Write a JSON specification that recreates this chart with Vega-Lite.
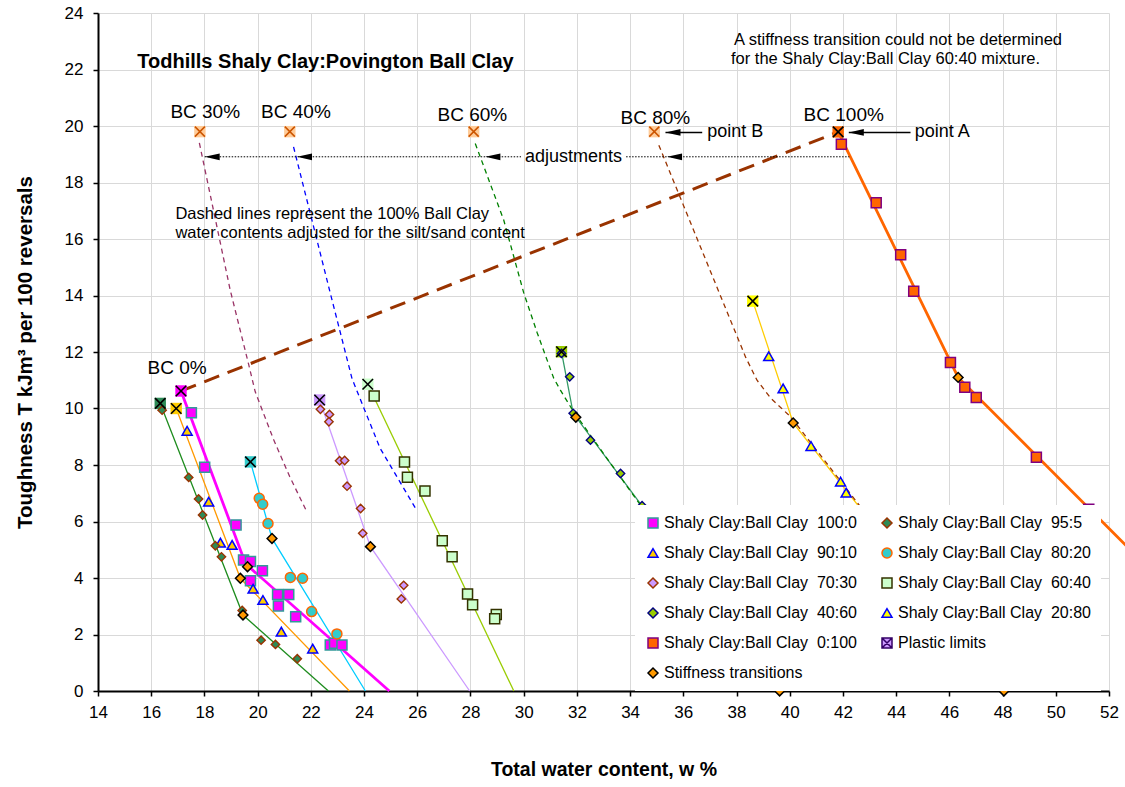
{
  "$schema": "https://vega.github.io/schema/vega-lite/v6.json",
  "width": 1011,
  "height": 678,
  "autosize": {"type": "none"},
  "padding": {"left": 98, "top": 13, "right": 16, "bottom": 96},
  "background": "white",
  "config": {
    "font": "Liberation Sans",
    "view": {"stroke": null},
    "axis": {
      "grid": true, "gridColor": "#D9D9D9", "gridWidth": 1,
      "domainColor": "black", "domainWidth": 2,
      "tickColor": "black", "tickSize": 5, "tickWidth": 1.5,
      "labelColor": "black", "labelFontSize": 17, "labelFont": "Liberation Sans",
      "titleColor": "black", "titleFontSize": 19.5, "titleFontWeight": "bold", "titleFont": "Liberation Sans",
      "labelFlush": false
    },
    "legend": {
      "orient": "none", "legendX": 537, "legendY": 492,
      "columns": 2, "columnPadding": 22, "rowPadding": 14, "padding": 10,
      "fillColor": "white", "labelFontSize": 16, "labelFont": "Liberation Sans", "labelColor": "black",
      "symbolSize": 100, "symbolStrokeWidth": 1.5, "labelOffset": 3, "labelLimit": 400
    }
  },
  "datasets": {
    "pts": [
      {"s":"100:0","x":17.51,"y":9.85},{"s":"100:0","x":18.01,"y":7.92},{"s":"100:0","x":19.19,"y":5.88},{"s":"100:0","x":19.47,"y":4.64},{"s":"100:0","x":19.73,"y":4.58},{"s":"100:0","x":20.18,"y":4.26},{"s":"100:0","x":19.73,"y":3.90},{"s":"100:0","x":20.75,"y":3.42},{"s":"100:0","x":21.17,"y":3.42},{"s":"100:0","x":20.78,"y":3.01},{"s":"100:0","x":21.43,"y":2.63},{"s":"100:0","x":22.73,"y":1.63},{"s":"100:0","x":22.89,"y":1.69},{"s":"100:0","x":23.17,"y":1.63},
      {"s":"90:10","x":17.35,"y":9.21},{"s":"90:10","x":18.16,"y":6.70},{"s":"90:10","x":18.60,"y":5.25},{"s":"90:10","x":19.04,"y":5.17},{"s":"90:10","x":19.83,"y":3.62},{"s":"90:10","x":20.20,"y":3.22},{"s":"90:10","x":20.89,"y":2.10},{"s":"90:10","x":22.07,"y":1.50},
      {"s":"80:20","x":20.06,"y":6.82},{"s":"80:20","x":20.19,"y":6.61},{"s":"80:20","x":20.39,"y":5.93},{"s":"80:20","x":21.23,"y":4.02},{"s":"80:20","x":21.69,"y":3.99},{"s":"80:20","x":22.03,"y":2.81},{"s":"80:20","x":22.98,"y":2.02},
      {"s":"60:40","x":24.38,"y":10.44},{"s":"60:40","x":25.52,"y":8.11},{"s":"60:40","x":25.63,"y":7.57},{"s":"60:40","x":26.29,"y":7.08},{"s":"60:40","x":26.94,"y":5.32},{"s":"60:40","x":27.31,"y":4.75},{"s":"60:40","x":27.89,"y":3.43},{"s":"60:40","x":28.08,"y":3.05},{"s":"60:40","x":28.97,"y":2.71},{"s":"60:40","x":28.91,"y":2.56},
      {"s":"20:80","x":39.21,"y":11.85},{"s":"20:80","x":39.75,"y":10.71},{"s":"20:80","x":40.80,"y":8.67},{"s":"20:80","x":41.91,"y":7.41},{"s":"20:80","x":42.12,"y":7.02},
      {"s":"0:100","x":41.94,"y":19.35},{"s":"0:100","x":43.25,"y":17.28},{"s":"0:100","x":44.17,"y":15.44},{"s":"0:100","x":44.66,"y":14.15},{"s":"0:100","x":46.04,"y":11.63},{"s":"0:100","x":46.58,"y":10.75},{"s":"0:100","x":47.01,"y":10.39},{"s":"0:100","x":49.27,"y":8.27},{"s":"0:100","x":51.24,"y":6.43}
    ],
    "small": [
      {"s":"95:5","x":16.41,"y":9.94},{"s":"95:5","x":17.41,"y":7.56},{"s":"95:5","x":17.78,"y":6.80},{"s":"95:5","x":17.93,"y":6.23},{"s":"95:5","x":18.41,"y":5.14},{"s":"95:5","x":18.64,"y":4.75},{"s":"95:5","x":19.42,"y":2.85},{"s":"95:5","x":20.13,"y":1.80},{"s":"95:5","x":20.67,"y":1.65},{"s":"95:5","x":21.49,"y":1.14},
      {"s":"70:30","x":22.36,"y":9.97},{"s":"70:30","x":22.70,"y":9.79},{"s":"70:30","x":22.68,"y":9.53},{"s":"70:30","x":23.08,"y":8.15},{"s":"70:30","x":23.27,"y":8.16},{"s":"70:30","x":23.36,"y":7.25},{"s":"70:30","x":23.87,"y":6.46},{"s":"70:30","x":23.95,"y":5.58},{"s":"70:30","x":25.49,"y":3.74},{"s":"70:30","x":25.40,"y":3.26},
      {"s":"40:60","x":31.42,"y":11.95},{"s":"40:60","x":31.73,"y":11.12},{"s":"40:60","x":31.86,"y":9.83},{"s":"40:60","x":32.51,"y":8.88},{"s":"40:60","x":33.64,"y":7.70},{"s":"40:60","x":34.45,"y":6.56}
    ],
    "stiff": [
      {"s":"Stiffness transitions","x":19.62,"y":4.40},{"s":"Stiffness transitions","x":19.35,"y":3.99},{"s":"Stiffness transitions","x":19.45,"y":2.69},{"s":"Stiffness transitions","x":20.54,"y":5.40},{"s":"Stiffness transitions","x":24.24,"y":5.11},{"s":"Stiffness transitions","x":31.96,"y":9.69},{"s":"Stiffness transitions","x":40.13,"y":9.49},{"s":"Stiffness transitions","x":46.33,"y":11.10},{"s":"Stiffness transitions","x":39.62,"y":0},{"s":"Stiffness transitions","x":48.05,"y":0}
    ],
    "pl": [
      {"s":"100:0","x":17.12,"y":10.62},{"s":"95:5","x":16.34,"y":10.18},{"s":"90:10","x":16.94,"y":10.00},{"s":"80:20","x":19.73,"y":8.11},{"s":"70:30","x":22.33,"y":10.30},{"s":"60:40","x":24.14,"y":10.86},{"s":"40:60","x":31.42,"y":12.01},{"s":"20:80","x":38.61,"y":13.80},{"s":"0:100","x":41.82,"y":19.79}
    ],
    "bc": [
      {"b":"BC 30%","x":17.83,"y":19.8},{"b":"BC 40%","x":21.21,"y":19.8},{"b":"BC 60%","x":28.12,"y":19.8},{"b":"BC 80%","x":34.91,"y":19.8}
    ],
    "lines": [
      {"g":"L100:0","o":1,"x":17.12,"y":10.62},{"g":"L100:0","o":2,"x":19.55,"y":4.5},{"g":"L100:0","o":3,"x":24.95,"y":0},
      {"g":"L95:5","o":1,"x":16.34,"y":10.18},{"g":"L95:5","o":2,"x":19.45,"y":2.69},{"g":"L95:5","o":3,"x":22.66,"y":0},
      {"g":"L90:10","o":1,"x":16.94,"y":10.0},{"g":"L90:10","o":2,"x":19.35,"y":3.99},{"g":"L90:10","o":3,"x":23.45,"y":0},
      {"g":"L80:20","o":1,"x":19.73,"y":8.11},{"g":"L80:20","o":2,"x":20.54,"y":5.40},{"g":"L80:20","o":3,"x":24.05,"y":0},
      {"g":"L70:30","o":1,"x":22.33,"y":10.30},{"g":"L70:30","o":2,"x":24.24,"y":5.11},{"g":"L70:30","o":3,"x":27.97,"y":0},
      {"g":"L60:40","o":1,"x":24.14,"y":10.86},{"g":"L60:40","o":2,"x":29.63,"y":0},
      {"g":"L40:60","o":1,"x":31.42,"y":12.01},{"g":"L40:60","o":2,"x":31.86,"y":9.83},{"g":"L40:60","o":3,"x":39.62,"y":0},
      {"g":"L20:80","o":1,"x":38.61,"y":13.80},{"g":"L20:80","o":2,"x":40.13,"y":9.49},{"g":"L20:80","o":3,"x":48.05,"y":0},
      {"g":"L0:100","o":1,"x":41.82,"y":19.79},{"g":"L0:100","o":2,"x":46.33,"y":11.10},{"g":"L0:100","o":3,"x":52.64,"y":5.15},
      {"g":"D30","o":1,"x":17.81,"y":19.40},{"g":"D30","o":2,"x":18.97,"y":14.19},{"g":"D30","o":3,"x":19.66,"y":11.57},{"g":"D30","o":4,"x":19.91,"y":10.59},{"g":"D30","o":5,"x":20.6,"y":8.9},{"g":"D30","o":6,"x":21.2,"y":7.6},{"g":"D30","o":7,"x":21.83,"y":6.38},
      {"g":"D40","o":1,"x":21.35,"y":19.26},{"g":"D40","o":2,"x":22.67,"y":14.31},{"g":"D40","o":3,"x":23.55,"y":11.05},{"g":"D40","o":4,"x":24.6,"y":8.6},{"g":"D40","o":5,"x":25.99,"y":6.38},
      {"g":"D60","o":1,"x":28.18,"y":19.38},{"g":"D60","o":2,"x":29.25,"y":16.67},{"g":"D60","o":3,"x":30.0,"y":14.1},{"g":"D60","o":4,"x":30.5,"y":12.7},{"g":"D60","o":5,"x":31.13,"y":11.07},{"g":"D60","o":6,"x":31.38,"y":10.65},{"g":"D60","o":7,"x":31.88,"y":9.88},{"g":"D60","o":8,"x":34.39,"y":6.58},{"g":"D60","o":9,"x":35.2,"y":5.5},
      {"g":"D80","o":1,"x":35.08,"y":19.32},{"g":"D80","o":2,"x":37.77,"y":13.13},{"g":"D80","o":3,"x":38.35,"y":11.8},{"g":"D80","o":4,"x":38.77,"y":11.0},{"g":"D80","o":5,"x":39.3,"y":10.35},{"g":"D80","o":6,"x":40.03,"y":9.71},{"g":"D80","o":7,"x":42.66,"y":6.52},{"g":"D80","o":8,"x":43.5,"y":5.5},
      {"g":"BC","o":1,"x":17.12,"y":10.62},{"g":"BC","o":2,"x":41.82,"y":19.79},
      {"g":"adj1","o":1,"x":18.01,"y":18.91},{"g":"adj1","o":2,"x":29.9,"y":18.91},
      {"g":"adj2","o":1,"x":33.85,"y":18.91},{"g":"adj2","o":2,"x":42.24,"y":18.91},
      {"g":"pA","o":1,"x":42.22,"y":19.77},{"g":"pA","o":2,"x":44.54,"y":19.77},
      {"g":"pB","o":1,"x":35.33,"y":19.77},{"g":"pB","o":2,"x":36.71,"y":19.77}
    ],
    "arrows": [
      {"x":18.01,"y":18.91},{"x":21.48,"y":18.91},{"x":28.56,"y":18.91},{"x":35.39,"y":18.91},{"x":42.22,"y":19.77},{"x":35.33,"y":19.77}
    ],
    "texts": [
      {"k":"title","t":"Todhills Shaly Clay:Povington Ball Clay","x":22.55,"y":22.26},
      {"k":"note","t":"A stiffness transition could not be determined","x":44.07,"y":23.04},
      {"k":"note","t":"for the Shaly Clay:Ball Clay 60:40 mixture.","x":43.6,"y":22.36},
      {"k":"noteL","t":"Dashed lines represent the 100% Ball Clay","x":16.91,"y":16.88},
      {"k":"noteL","t":"water contents adjusted for the silt/sand content","x":16.91,"y":16.20},
      {"k":"bc","t":"BC 30%","x":18.03,"y":20.50},
      {"k":"bc","t":"BC 40%","x":21.44,"y":20.50},
      {"k":"bc","t":"BC 60%","x":28.07,"y":20.40},
      {"k":"bc","t":"BC 80%","x":34.95,"y":20.30},
      {"k":"bc","t":"BC 100%","x":42.03,"y":20.38},
      {"k":"bc","t":"BC 0%","x":16.97,"y":11.42},
      {"k":"pt","t":"point B","x":36.9,"y":19.77},
      {"k":"pt","t":"point A","x":44.7,"y":19.77},
      {"k":"adj","t":"adjustments","x":31.87,"y":18.91}
    ]
  },
  "encoding": {
    "x": {"field": "x", "type": "quantitative", "scale": {"domain": [14, 52], "nice": false, "zero": false},
      "axis": {"values": [14,16,18,20,22,24,26,28,30,32,34,36,38,40,42,44,46,48,50,52], "title": "Total water content, w %", "labelPadding": 8, "titlePadding": 40}},
    "y": {"field": "y", "type": "quantitative", "scale": {"domain": [0, 24], "nice": false, "zero": false},
      "axis": {"values": [0,2,4,6,8,10,12,14,16,18,20,22,24], "title": "Toughness T kJm³ per 100 reversals", "titleFontSize": 20.5, "labelPadding": 10, "titlePadding": 29}}
  },
  "layer": [
    {
      "data": {"name": "lines"},
      "transform": [{"filter": {"field": "g", "oneOf": ["L95:5","L90:10","L80:20","L70:30","L60:40","L40:60","L20:80"]}}],
      "mark": {"type": "line", "strokeWidth": 1.3},
      "encoding": {
        "color": {"field": "g", "type": "nominal", "legend": null,
          "scale": {"domain": ["L100:0","L95:5","L90:10","L80:20","L70:30","L60:40","L40:60","L20:80","L0:100","D30","D40","D60","D80"],
                    "range": ["#FF00FF","#1E8C1E","#FF9900","#00CCFF","#CC99FF","#99CC00","#339966","#FFCC00","#FF6600","#993366","#0000FF","#008000","#993300"]}},
        "order": {"field": "o", "type": "quantitative"}
      }
    },
    {
      "data": {"name": "lines"},
      "transform": [{"filter": {"field": "g", "oneOf": ["D30","D40","D60","D80"]}}],
      "mark": {"type": "line", "strokeWidth": 1.3, "strokeDash": [5, 4]},
      "encoding": {
        "color": {"field": "g", "type": "nominal", "legend": null,
          "scale": {"domain": ["L100:0","L95:5","L90:10","L80:20","L70:30","L60:40","L40:60","L20:80","L0:100","D30","D40","D60","D80"],
                    "range": ["#FF00FF","#1E8C1E","#FF9900","#00CCFF","#CC99FF","#99CC00","#339966","#FFCC00","#FF6600","#993366","#0000FF","#008000","#993300"]}},
        "order": {"field": "o", "type": "quantitative"}
      }
    },
    {
      "data": {"name": "lines"},
      "transform": [{"filter": {"field": "g", "oneOf": ["L100:0","L0:100"]}}],
      "mark": {"type": "line", "strokeWidth": 2.8},
      "encoding": {
        "color": {"field": "g", "type": "nominal", "legend": null,
          "scale": {"domain": ["L100:0","L95:5","L90:10","L80:20","L70:30","L60:40","L40:60","L20:80","L0:100","D30","D40","D60","D80"],
                    "range": ["#FF00FF","#1E8C1E","#FF9900","#00CCFF","#CC99FF","#99CC00","#339966","#FFCC00","#FF6600","#993366","#0000FF","#008000","#993300"]}},
        "order": {"field": "o", "type": "quantitative"}
      }
    },
    {
      "data": {"name": "lines"},
      "transform": [{"filter": {"field": "g", "equal": "BC"}}],
      "mark": {"type": "line", "strokeWidth": 3, "strokeDash": [16, 9], "color": "#993300"},
      "encoding": {"order": {"field": "o", "type": "quantitative"}}
    },
    {
      "data": {"name": "lines"},
      "transform": [{"filter": {"field": "g", "oneOf": ["adj1","adj2"]}}],
      "mark": {"type": "line", "strokeWidth": 1, "strokeDash": [1.5, 1.5], "color": "black"},
      "encoding": {"detail": {"field": "g"}, "order": {"field": "o", "type": "quantitative"}}
    },
    {
      "data": {"name": "lines"},
      "transform": [{"filter": {"field": "g", "oneOf": ["pA","pB"]}}],
      "mark": {"type": "line", "strokeWidth": 1.3, "color": "black"},
      "encoding": {"detail": {"field": "g"}, "order": {"field": "o", "type": "quantitative"}}
    },
    {
      "data": {"name": "pl"},
      "mark": {"type": "point", "shape": "square", "filled": true, "opacity": 1, "size": 130, "strokeWidth": 0},
      "encoding": {
        "fill": {"field": "s", "type": "nominal", "legend": {"title": null, "labelExpr": "indexof(datum.label, ':') > 0 ? 'Shaly Clay:Ball Clay\u00a0 ' + datum.label : datum.label"},
          "scale": {"domain": ["100:0","90:10","70:30","40:60","0:100","Stiffness transitions","95:5","80:20","60:40","20:80","Plastic limits"],
                    "range": ["#FF00FF","#FFCC00","#CC99FF","#99CC00","#FF6600","#FF9900","#2E8B57","#33CCCC","#CCFFCC","#FFFF00","#CC99FF"]}}
      }
    },
    {
      "data": {"name": "bc"},
      "mark": {"type": "point", "shape": "square", "filled": true, "opacity": 1, "size": 130, "strokeWidth": 0, "fill": "#FFCC99"}
    },
    {
      "data": {"name": "pts"},
      "mark": {"type": "point", "filled": true, "opacity": 1, "size": 100, "strokeWidth": 1.5},
      "encoding": {
        "fill": {"field": "s", "type": "nominal", "legend": {"title": null, "labelExpr": "indexof(datum.label, ':') > 0 ? 'Shaly Clay:Ball Clay\u00a0 ' + datum.label : datum.label"},
          "scale": {"domain": ["100:0","90:10","70:30","40:60","0:100","Stiffness transitions","95:5","80:20","60:40","20:80","Plastic limits"],
                    "range": ["#FF00FF","#FFCC00","#CC99FF","#99CC00","#FF6600","#FF9900","#2E8B57","#33CCCC","#CCFFCC","#FFFF00","#CC99FF"]}},
        "stroke": {"field": "s", "type": "nominal", "legend": {"title": null, "labelExpr": "indexof(datum.label, ':') > 0 ? 'Shaly Clay:Ball Clay\u00a0 ' + datum.label : datum.label"},
          "scale": {"domain": ["100:0","90:10","70:30","40:60","0:100","Stiffness transitions","95:5","80:20","60:40","20:80","Plastic limits"],
                    "range": ["#339999","#0000FF","#993300","#000080","#800080","#000000","#993300","#FF6600","#333300","#0000FF","#330066"]}},
        "shape": {"field": "s", "type": "nominal", "legend": {"title": null, "labelExpr": "indexof(datum.label, ':') > 0 ? 'Shaly Clay:Ball Clay\u00a0 ' + datum.label : datum.label"},
          "scale": {"domain": ["100:0","90:10","70:30","40:60","0:100","Stiffness transitions","95:5","80:20","60:40","20:80","Plastic limits"],
                    "range": ["square","triangle-up","diamond","diamond","square","diamond","diamond","circle","square","triangle-up","M-1,-1H1V1H-1Z M-0.9,-0.9L0.9,0.9 M0.9,-0.9L-0.9,0.9"]}}
      }
    },
    {
      "data": {"name": "small"},
      "mark": {"type": "point", "filled": true, "opacity": 1, "size": 70, "strokeWidth": 1.4},
      "encoding": {
        "fill": {"field": "s", "type": "nominal", "legend": {"title": null, "labelExpr": "indexof(datum.label, ':') > 0 ? 'Shaly Clay:Ball Clay\u00a0 ' + datum.label : datum.label"},
          "scale": {"domain": ["100:0","90:10","70:30","40:60","0:100","Stiffness transitions","95:5","80:20","60:40","20:80","Plastic limits"],
                    "range": ["#FF00FF","#FFCC00","#CC99FF","#99CC00","#FF6600","#FF9900","#2E8B57","#33CCCC","#CCFFCC","#FFFF00","#CC99FF"]}},
        "stroke": {"field": "s", "type": "nominal", "legend": {"title": null, "labelExpr": "indexof(datum.label, ':') > 0 ? 'Shaly Clay:Ball Clay\u00a0 ' + datum.label : datum.label"},
          "scale": {"domain": ["100:0","90:10","70:30","40:60","0:100","Stiffness transitions","95:5","80:20","60:40","20:80","Plastic limits"],
                    "range": ["#339999","#0000FF","#993300","#000080","#800080","#000000","#993300","#FF6600","#333300","#0000FF","#330066"]}},
        "shape": {"field": "s", "type": "nominal", "legend": {"title": null, "labelExpr": "indexof(datum.label, ':') > 0 ? 'Shaly Clay:Ball Clay\u00a0 ' + datum.label : datum.label"},
          "scale": {"domain": ["100:0","90:10","70:30","40:60","0:100","Stiffness transitions","95:5","80:20","60:40","20:80","Plastic limits"],
                    "range": ["square","triangle-up","diamond","diamond","square","diamond","diamond","circle","square","triangle-up","M-1,-1H1V1H-1Z M-0.9,-0.9L0.9,0.9 M0.9,-0.9L-0.9,0.9"]}}
      }
    },
    {
      "data": {"name": "pl"},
      "mark": {"type": "point", "shape": "M-1,-1L1,1M1,-1L-1,1", "filled": false, "opacity": 1, "size": 110, "strokeWidth": 1.6, "stroke": "black"}
    },
    {
      "data": {"name": "bc"},
      "mark": {"type": "point", "shape": "M-1,-1L1,1M1,-1L-1,1", "filled": false, "opacity": 1, "size": 100, "strokeWidth": 1.5, "stroke": "#CC5500"}
    },
    {
      "data": {"name": "stiff"},
      "mark": {"type": "point", "filled": true, "opacity": 1, "size": 95, "strokeWidth": 1.5},
      "encoding": {
        "fill": {"field": "s", "type": "nominal", "legend": {"title": null, "labelExpr": "indexof(datum.label, ':') > 0 ? 'Shaly Clay:Ball Clay\u00a0 ' + datum.label : datum.label"},
          "scale": {"domain": ["100:0","90:10","70:30","40:60","0:100","Stiffness transitions","95:5","80:20","60:40","20:80","Plastic limits"],
                    "range": ["#FF00FF","#FFCC00","#CC99FF","#99CC00","#FF6600","#FF9900","#2E8B57","#33CCCC","#CCFFCC","#FFFF00","#CC99FF"]}},
        "stroke": {"field": "s", "type": "nominal", "legend": {"title": null, "labelExpr": "indexof(datum.label, ':') > 0 ? 'Shaly Clay:Ball Clay\u00a0 ' + datum.label : datum.label"},
          "scale": {"domain": ["100:0","90:10","70:30","40:60","0:100","Stiffness transitions","95:5","80:20","60:40","20:80","Plastic limits"],
                    "range": ["#339999","#0000FF","#993300","#000080","#800080","#000000","#993300","#FF6600","#333300","#0000FF","#330066"]}},
        "shape": {"field": "s", "type": "nominal", "legend": {"title": null, "labelExpr": "indexof(datum.label, ':') > 0 ? 'Shaly Clay:Ball Clay\u00a0 ' + datum.label : datum.label"},
          "scale": {"domain": ["100:0","90:10","70:30","40:60","0:100","Stiffness transitions","95:5","80:20","60:40","20:80","Plastic limits"],
                    "range": ["square","triangle-up","diamond","diamond","square","diamond","diamond","circle","square","triangle-up","M-1,-1H1V1H-1Z M-0.9,-0.9L0.9,0.9 M0.9,-0.9L-0.9,0.9"]}}
      }
    },
    {
      "data": {"name": "arrows"},
      "mark": {"type": "point", "shape": "M0,0L2,-0.45L2,0.45Z", "filled": true, "opacity": 1, "size": 225, "color": "black", "strokeWidth": 0}
    },
    {
      "data": {"name": "texts"},
      "transform": [{"filter": {"field": "k", "equal": "title"}}],
      "mark": {"type": "text", "font": "Liberation Sans", "fontSize": 20, "fontWeight": "bold", "align": "center", "baseline": "middle", "color": "black"},
      "encoding": {"text": {"field": "t"}}
    },
    {
      "data": {"name": "texts"},
      "transform": [{"filter": {"field": "k", "equal": "note"}}],
      "mark": {"type": "text", "font": "Liberation Sans", "fontSize": 16.5, "align": "center", "baseline": "middle", "color": "black"},
      "encoding": {"text": {"field": "t"}}
    },
    {
      "data": {"name": "texts"},
      "transform": [{"filter": {"field": "k", "equal": "noteL"}}],
      "mark": {"type": "text", "font": "Liberation Sans", "fontSize": 16.5, "align": "left", "baseline": "middle", "color": "black"},
      "encoding": {"text": {"field": "t"}}
    },
    {
      "data": {"name": "texts"},
      "transform": [{"filter": {"field": "k", "equal": "bc"}}],
      "mark": {"type": "text", "font": "Liberation Sans", "fontSize": 19, "align": "center", "baseline": "middle", "color": "black"},
      "encoding": {"text": {"field": "t"}}
    },
    {
      "data": {"name": "texts"},
      "transform": [{"filter": {"field": "k", "equal": "pt"}}],
      "mark": {"type": "text", "font": "Liberation Sans", "fontSize": 18, "align": "left", "baseline": "middle", "color": "black"},
      "encoding": {"text": {"field": "t"}}
    },
    {
      "data": {"name": "texts"},
      "transform": [{"filter": {"field": "k", "equal": "adj"}}],
      "mark": {"type": "text", "font": "Liberation Sans", "fontSize": 18, "align": "center", "baseline": "middle", "color": "black"},
      "encoding": {"text": {"field": "t"}}
    }
  ]
}
